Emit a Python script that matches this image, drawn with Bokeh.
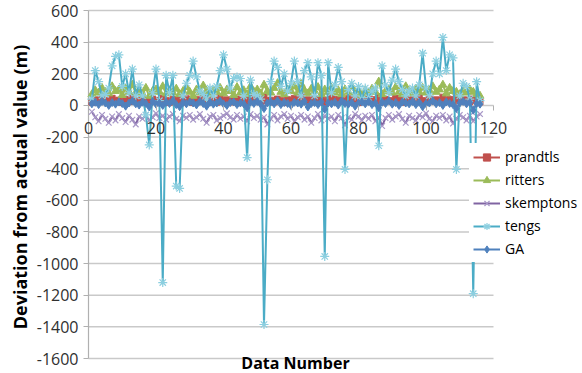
from bokeh.plotting import figure
from bokeh.models import Range1d, FixedTicker, Legend, LegendItem, Label
from bokeh.embed import file_html
from bokeh.resources import INLINE

# ---------------- data ----------------
data_number = list(range(1, 117))

prandtls = [
    20, 35, 25, 40, 30, 22, 45, 28, 33, 18,
    38, 25, 50, 30, 22, 35, 28, 15, 40, 32,
    25, 45, 30, 20, 38, 28, 35, 22, 42, 30,
    18, 36, 27, 44, 30, 25, 33, 20, 48, 28,
    35, 30, 22, 40, 26, 34, 20, 45, 30, 38,
    25, 55, 28, 33, 22, 40, 30, 18, 36, 28,
    45, 25, 60, 30, 35, 22, 40, 28, 50, 20,
    33, 45, 26, 38, 30, 22, 42, 28, 35, 18,
    30, 40, 25, 36, 28, 55, 22, 38, 30, 26,
    44, 32, 20, 38, 28, 35, 25, 48, 30, 22,
    40, 28, 35, 30, 52, 25, 38, 22, 45, 30,
    28, 35, 25, 40, 30, 22]

ritters = [
    70, 95, 80, 110, 85, 75, 120, 90, 100, 65,
    105, 85, 130, 80, 95, 70, 110, 60, 90, 100,
    85, 120, 75, 95, 80, 105, 70, 90, 115, 85,
    60, 100, 80, 125, 90, 70, 95, 85, 110, 75,
    100, 90, 65, 115, 80, 95, 70, 120, 85, 100,
    75, 130, 90, 80, 110, 140, 85, 70, 100, 90,
    120, 80, 135, 95, 75, 105, 90, 115, 70, 100,
    85, 110, 80, 95, 70, 100, 85, 120, 75, 90,
    65, 95, 80, 105, 85, 150, 70, 90, 100, 80,
    115, 85, 70, 120, 90, 75, 105, 85, 110, 80,
    95, 120, 85, 100, 130, 75, 110, 90, 85, 70,
    95, 80, 100, 85, 70, 60]

skemptons = [
    -40, -75, -100, -60, -85, -110, -70, -95, -55, -80,
    -105, -65, -90, -120, -70, -85, -60, -95, -75, -50,
    -80, -65, -90, -70, -55, -85, -100, -65, -80, -60,
    -90, -75, -55, -85, -110, -70, -60, -95, -80, -65,
    -50, -75, -90, -60, -85, -70, -100, -55, -80, -65,
    -90, -75, -120, -85, -60, -95, -70, -55, -85, -65,
    -100, -75, -60, -90, -70, -110, -80, -55, -95, -65,
    -85, -70, -100, -60, -80, -125, -75, -90, -55, -70,
    -95, -65, -85, -60, -100, -75, -130, -80, -60, -90,
    -70, -55, -85, -110, -65, -80, -95, -60, -75, -50,
    -85, -100, -65, -80, -60, -95, -70, -115, -85, -60,
    -75, -95, -65, -100, -70, -55]

tengs = [
    40, 220, 150, 60, 70, 110, 250, 310, 320, 120,
    200, 80, 230, 60, 130, 60, -60, -250, 80, 230,
    30, -1120, 190, 80, 190, -510, -525, 60, 140, 190,
    280, 180, 90, 70, 40, 110, 60, 120, 220, 320,
    230, 110, 170, 180, 170, 60, -330, 160, 70, 60,
    40, -1385, -470, 150, 280, 240, 120, 200, 90, 140,
    280, 150, 60, 220, 270, 180, 60, 270, 190, -955,
    270, 80, 130, 240, 150, -405, 100, 140, 60, 120,
    40, 110, 50, 90, 110, -255, 250, 130, 80, 160,
    230, 150, 100, 60, 90, 110, 60, 130, 330, 110,
    60, 200, 280, 200, 430, 220, 320, 300, -405, 60,
    140, 120, 40, -1190, 150, 30]

GA = [
    10, 20, 5, 25, 15, 0, 18, 8, 22, 12,
    -5, 15, 28, 10, 2, 20, 12, -10, 25, 8,
    15, 0, 20, 12, 30, 5, -8, 18, 10, 22,
    15, 3, 25, 12, -5, 20, 8, 15, 28, 10,
    0, 18, 22, 5, 15, 10, -15, 20, 12, 25,
    8, -20, 15, 22, 10, 30, 5, 18, 12, 0,
    20, 15, 8, 25, -10, 12, 18, 5, 22, -25,
    15, 10, 20, 2, 28, 12, 8, 18, -5, 15,
    22, 10, 25, 5, 15, -15, 20, 12, 30, 8,
    18, 0, 22, 15, 10, 25, 5, 20, -8, 12,
    15, 28, 10, 18, 0, 22, 12, 5, -20, 15,
    25, 10, 18, -30, 12, 8]

x_ticks = [0, 20, 40, 60, 80, 100, 120]
y_ticks = [-1600, -1400, -1200, -1000, -800, -600, -400, -200, 0, 200, 400, 600]
y_tick_labels = ["-1600", "-1400", "-1200", "-1000", "-800", "-600", "-400",
                 "-200", "0", "200", "400", "600"]

series_names = ["prandtls", "ritters", "skemptons", "tengs", "GA"]
series_values = [prandtls, ritters, skemptons, tengs, GA]
series_colors = ["#C0504D", "#9BBB59", "#8064A2", "#4BACC6", "#4F81BD"]
marker_colors = ["#C0504D", "#9BBB59", "#A898C8", "#8CCFE0", "#4F81BD"]
series_markers = ["square", "triangle", "x", "asterisk", "diamond"]
marker_sizes = [6, 8, 8, 9, 8]

FONT = "Open Sans"

# ---------------- layout (pixels inside the figure) ----------------
W, H = 582, 373
LEFT = 83                 # frame left edge
X0_PX, X1_PX = 88, 493    # where x = 0 and x = 120 fall
Y_TOP_PX, Y_BOT_PX = 10, 358  # where y = 600 and y = -1600 fall

xs = (X1_PX - X0_PX) / (x_ticks[-1] - x_ticks[0])
ys = (Y_BOT_PX - Y_TOP_PX) / (y_ticks[-1] - y_ticks[0])
x_start = x_ticks[0] - (X0_PX - LEFT) / xs
x_end = x_ticks[-1] + (W - X1_PX) / xs
y_end = y_ticks[-1] + Y_TOP_PX / ys
y_start = y_ticks[0] - (H - Y_BOT_PX) / ys

p = figure(width=W, height=H,
           x_range=Range1d(x_start, x_end), y_range=Range1d(y_start, y_end),
           output_backend="svg", toolbar_location=None,
           min_border_left=LEFT, min_border_right=0,
           min_border_top=0, min_border_bottom=0)

p.outline_line_color = None
p.background_fill_color = "white"
p.border_fill_color = "white"
p.grid.grid_line_color = None

GRID = "#c9c9c9"
AXIS = "#b0b0b0"

# horizontal gridlines spanning 0..120 only
p.segment(x0=[x_ticks[0]] * len(y_ticks), y0=y_ticks,
          x1=[x_ticks[-1]] * len(y_ticks), y1=y_ticks,
          line_color=GRID, line_width=1.5)
# vertical axis line at x = 0
p.segment(x0=[x_ticks[0]], y0=[y_ticks[0]], x1=[x_ticks[0]], y1=[y_ticks[-1]],
          line_color=AXIS, line_width=1.2)

# y axis (labels only, ticks reach the drawn axis line)
p.yaxis.ticker = FixedTicker(ticks=y_ticks)
p.yaxis.major_label_overrides = dict(zip(y_ticks, y_tick_labels))
p.yaxis.axis_label = "Deviation from actual value (m)"
p.yaxis.axis_label_text_font = FONT
p.yaxis.axis_label_text_font_style = "bold"
p.yaxis.axis_label_text_font_size = "18px"
p.yaxis.axis_label_text_color = "black"
p.yaxis.axis_label_standoff = 2
p.yaxis.major_label_text_font = FONT
p.yaxis.major_label_text_font_size = "16px"
p.yaxis.major_label_text_color = "#303030"
p.yaxis.major_label_standoff = 5
p.yaxis.major_tick_in = X0_PX - LEFT
p.yaxis.major_tick_out = 0
p.yaxis.minor_tick_line_color = None
p.yaxis.axis_line_color = None
p.yaxis.major_tick_line_color = AXIS

# x axis crossing at y = 0
p.xaxis.fixed_location = 0
p.xaxis.ticker = FixedTicker(ticks=x_ticks)
p.xaxis.major_label_text_font = FONT
p.xaxis.major_label_text_font_size = "16px"
p.xaxis.major_label_text_color = "#303030"
p.xaxis.major_label_standoff = 12
p.xaxis.major_tick_in = 0
p.xaxis.major_tick_out = 5
p.xaxis.minor_tick_line_color = None
p.xaxis.axis_line_color = None
p.xaxis.major_tick_line_color = AXIS

items = []
for name, vals, c, mc, mk, ms in zip(series_names, series_values, series_colors,
                                      marker_colors, series_markers, marker_sizes):
    r_line = p.line(data_number, vals, line_color=c, line_width=2)
    if mk in ("x", "asterisk"):
        r_mark = p.scatter(data_number, vals, marker=mk, size=ms,
                           line_color=mc, line_width=1.2)
    else:
        r_mark = p.scatter(data_number, vals, marker=mk, size=ms,
                           fill_color=mc, line_color=mc)
    items.append(LegendItem(label=name, renderers=[r_line, r_mark]))

legend = Legend(items=items, location=(386, 111),
                label_text_font=FONT, label_text_font_size="14px",
                label_text_color="black",
                glyph_width=27, glyph_height=18, label_height=18,
                spacing=4, padding=4, margin=0, label_standoff=5,
                border_line_alpha=0, background_fill_color="white",
                background_fill_alpha=1.0)
p.add_layout(legend)

p.add_layout(Label(x=212, y=11, x_units="screen", y_units="screen",
                   text="Data Number", text_align="center",
                   text_baseline="middle", text_font=FONT,
                   text_font_style="bold", text_font_size="16px",
                   text_color="black"))

open("out.html", "w").write(file_html(p, INLINE))
